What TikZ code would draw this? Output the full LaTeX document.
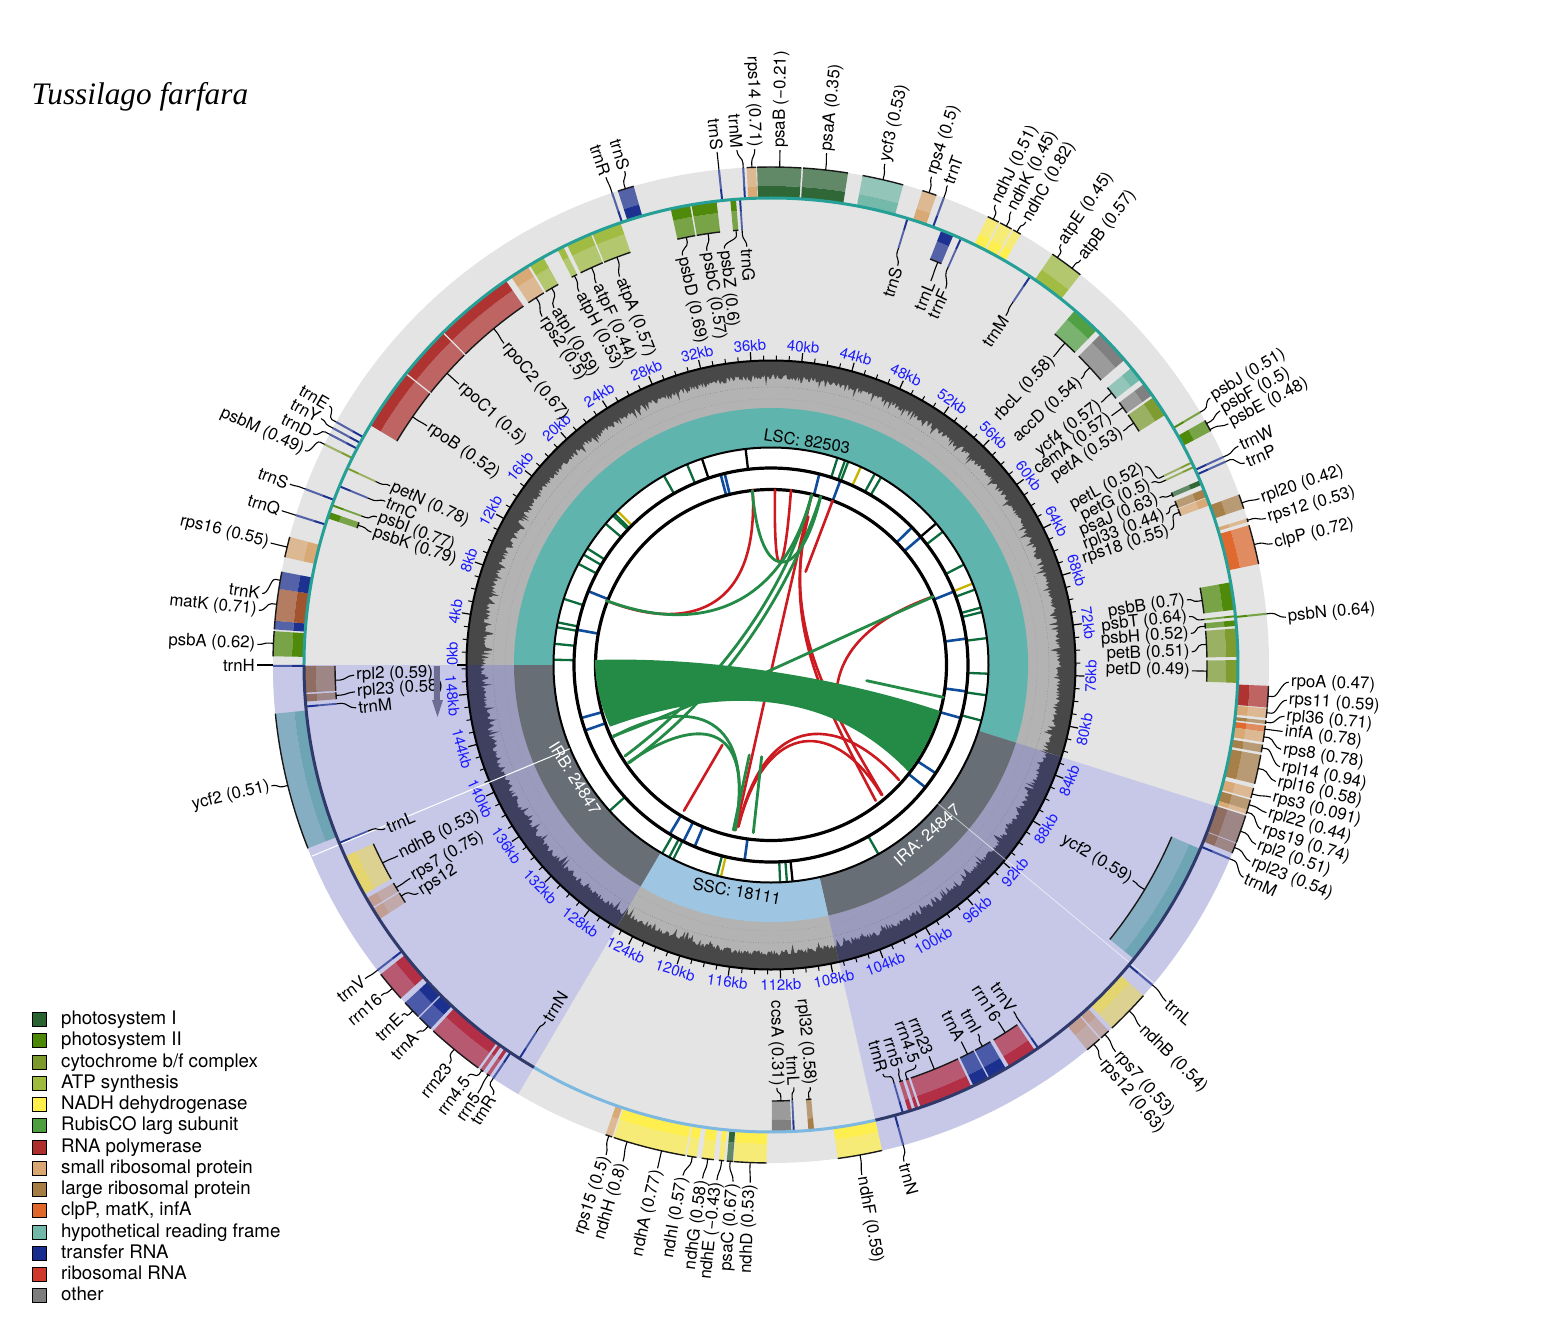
\documentclass[tikz,border=0pt]{standalone}
\usepackage{fontspec}
\setmainfont{TeX Gyre Heros}
\newfontfamily\titlefont{Liberation Serif}
\definecolor{gPSI}{HTML}{2A6332}
\definecolor{gPSII}{HTML}{4C8805}
\definecolor{gCYT}{HTML}{7C9A2C}
\definecolor{gATP}{HTML}{9FBB3D}
\definecolor{gNDH}{HTML}{FFEF4A}
\definecolor{gRUB}{HTML}{4D9E3F}
\definecolor{gPOL}{HTML}{AE2E2B}
\definecolor{gSSU}{HTML}{D9A872}
\definecolor{gLSU}{HTML}{A67C45}
\definecolor{gCLP}{HTML}{E0662A}
\definecolor{gHYP}{HTML}{71B8A8}
\definecolor{gTRN}{HTML}{172C8E}
\definecolor{gRRN}{HTML}{D1382C}
\definecolor{gRRI}{HTML}{B32B40}
\definecolor{gOTH}{HTML}{7D7D7D}
\definecolor{gYCI}{HTML}{6BA4B3}
\definecolor{gMAT}{HTML}{A0502A}
\definecolor{gRPI}{HTML}{8F6B5D}
\definecolor{gSSI}{HTML}{C19D8F}
\definecolor{gNDI}{HTML}{E5D66B}
\definecolor{bggray}{HTML}{E4E4E4}
\definecolor{lav}{HTML}{C7C8E8}
\definecolor{gcband}{HTML}{B3B3B3}
\definecolor{gcdark}{HTML}{484848}
\definecolor{gcbandIR}{HTML}{9B9BBE}
\definecolor{gcdarkIR}{HTML}{3F3F60}
\definecolor{lsc}{HTML}{60B4AE}
\definecolor{irr}{HTML}{676E75}
\definecolor{ssc}{HTML}{9EC6E2}
\definecolor{arcLSC}{HTML}{26A096}
\definecolor{arcSSC}{HTML}{7DB8E0}
\definecolor{arcIR}{HTML}{2F3A6B}
\definecolor{chG}{HTML}{238B46}
\definecolor{chR}{HTML}{CC1A20}
\definecolor{mkG}{HTML}{0B6B3A}
\definecolor{mkB}{HTML}{0F4C9C}
\definecolor{mkY}{HTML}{C8B400}
\definecolor{kbblue}{HTML}{1A1AFF}
\definecolor{arrowc}{HTML}{6D6D94}
\tikzset{
  lab/.style={inner sep=2pt,font=\fontsize{16.8}{19}\selectfont,text=black},
  leader/.style={draw=black,line width=1.1pt,line join=round},
  edgearc/.style={draw=black!90,line width=1.4pt},
  chordg/.style={draw=chG,line width=2.8pt,line cap=round},
  chordr/.style={draw=chR,line width=2.6pt,line cap=round},
  kblab/.style={inner sep=0pt,font=\fontsize{15}{16}\selectfont,text=kbblue},
  reglab/.style={inner sep=0pt,font=\fontsize{16.5}{18}\selectfont},
  legbox/.style={draw=black,line width=.5pt,minimum size=14pt,inner sep=0pt},
  legtxt/.style={inner sep=0pt,anchor=base west,font=\fontsize{18.7}{20}\selectfont},
}
\newcommand\sect[5]{\fill[#1] (#4:#2) arc[start angle=#4,end angle=#5,radius=#2] -- (#5:#3) arc[start angle=#5,end angle=#4,radius=#3] -- cycle;}
\newcommand\ogene[3]{\sect{#1,opacity=.97}{467}{479}{#2}{#3}\sect{#1,opacity=.7}{479}{498}{#2}{#3}\draw[edgearc] (#2:498) arc[start angle=#2,end angle=#3,radius=498];}
\newcommand\igene[3]{\sect{#1,opacity=.97}{467}{455}{#2}{#3}\sect{#1,opacity=.7}{455}{436}{#2}{#3}\draw[edgearc] (#2:436) arc[start angle=#2,end angle=#3,radius=436];}
\newcommand\othin[2]{\pgfmathsetmacro\tha{#2-.12}\pgfmathsetmacro\thb{#2+.12}\sect{#1,opacity=.97}{467}{479}{\tha}{\thb}\sect{#1,opacity=.7}{479}{498}{\tha}{\thb}}
\newcommand\ithin[2]{\pgfmathsetmacro\tha{#2-.12}\pgfmathsetmacro\thb{#2+.12}\sect{#1,opacity=.97}{467}{455}{\tha}{\thb}\sect{#1,opacity=.7}{455}{436}{\tha}{\thb}}
\newcounter{labn}
% gene angle, label angle, label radius, text
\newcommand\olab[4]{\stepcounter{labn}\pgfmathtruncatemacro\isr{abs(#2)<90?1:0}\pgfmathsetmacro\rp{#3-2}\pgfmathsetmacro\rc{#3-9}%
  \ifnum\isr=1 \pgfmathsetmacro\rt{#2}\def\anc{west}\else\pgfmathsetmacro\rt{#2-180}\def\anc{east}\fi
  \node[lab,anchor=\anc,rotate=\rt] (L\thelabn) at (#2:\rp) {#4};
  \draw[leader] (#1:498) -- (#1:503) .. controls (#1:508) and (#2:\rc) .. (L\thelabn.\anc);}
\newcommand\ilab[4]{\stepcounter{labn}\pgfmathtruncatemacro\isr{abs(#2)<90?1:0}\pgfmathsetmacro\rp{#3+2}\pgfmathsetmacro\rc{#3+9}%
  \ifnum\isr=1 \pgfmathsetmacro\rt{#2}\def\anc{east}\else\pgfmathsetmacro\rt{#2-180}\def\anc{west}\fi
  \node[lab,anchor=\anc,rotate=\rt] (L\thelabn) at (#2:\rp) {#4};
  \draw[leader] (#1:436) -- (#1:431) .. controls (#1:426) and (#2:\rc) .. (L\thelabn.\anc);}
\newcommand\gchist[5]{\pgfmathsetseed{#5}\fill[#1] (#2:304) \foreach \a [evaluate=\a as \rr using {304-(13+6*rnd+(rnd>0.9)*6)}] in {#2,#3,...,#4}{ -- (\a:\rr)} -- (#4:304) arc[start angle=#4,end angle=#2,radius=304] -- cycle;}
\begin{document}
\begin{tikzpicture}[x=1pt,y=1pt]
\useasboundingbox (-771,665) rectangle (773,-669);
\fill[white] (-771,665) rectangle (773,-669);
% outer background
\fill[bggray] (0,0) circle[radius=498];
\sect{lav}{304}{498}{-17.6}{-77.1}
\sect{lav}{304}{498}{-120.5}{-180}
% GC ring
\fill[gcband] (0,0) circle[radius=304];
\sect{gcbandIR}{257}{304}{-17.6}{-77.1}
\sect{gcbandIR}{257}{304}{-120.5}{-180}
\gchist{gcdark}{180}{179.75}{-17.6}{3}
\gchist{gcdarkIR}{-17.6}{-17.85}{-77.1}{5}
\gchist{gcdark}{-77.1}{-77.35}{-120.5}{8}
\gchist{gcdarkIR}{-120.5}{-120.75}{-180}{11}
\draw[black!55,line width=.5pt,dotted] (0,0) circle[radius=278];
\draw[black!45,line width=.4pt,dotted] (0,0) circle[radius=266];
\draw[black,line width=2pt] (0,0) circle[radius=304.5];
% ticks and kb labels
\foreach \k in {0,...,150}{
  \pgfmathsetmacro\ka{180-\k*2.3951}
  \pgfmathtruncatemacro\km{mod(\k,4)}
  \ifnum\km=0 \draw[black,line width=1.2pt] (\ka:305) -- (\ka:313.5);
  \else \draw[black,line width=1pt] (\ka:305) -- (\ka:309.5);\fi
}
\node[kblab,rotate=90] (kb0) at (178:319) {0kb};
\foreach \k in {4,8,...,148}{
  \pgfmathsetmacro\ka{180-\k*2.3951}
  \pgfmathtruncatemacro\up{\ka>0?1:0}
  \ifnum\up=1 \pgfmathsetmacro\kr{\ka-90}\else\pgfmathsetmacro\kr{\ka+90}\fi
  \node[kblab,rotate=\kr] (kb\k) at (\ka:320) {\k kb};
}
% region ring
\sect{lsc}{218}{257}{180}{-17.6}
\sect{irr}{218}{257}{-17.6}{-77.1}
\sect{ssc}{218}{257}{-77.1}{-120.5}
\sect{irr}{218}{257}{-120.5}{-180}
\node[reglab,rotate=-9] (rLSC) at (36,224) {LSC: 82503};
\node[reglab,rotate=-10] (rSSC) at (-34,-226) {SSC: 18111};
\node[reglab,rotate=42,text=white] (rIRA) at (156,-170) {IRA: 24847};
\node[reglab,rotate=-58,text=white] (rIRB) at (-196,-113) {IRB: 24847};
% inner rings
\fill[white] (0,0) circle[radius=217];
\foreach \a/\c in {96.7/black,108.5/black,112.7/mkG,119.5/mkG,134.9/mkY,136/mkG,136.6/mkG,139.5/mkG,147.6/mkG,149.5/mkG,152.3/mkG,162.3/mkG,168.7/mkG,170/mkG,174.4/mkG,178.6/mkG,72.2/mkG,70.1/mkG,69.2/mkG,65.6/mkY,61.5/mkG,59.6/mkG,40.6/black,37.8/mkG,27.5/mkG,22/mkY,20.3/mkG,15.3/mkG,14.1/mkG,7.1/mkG,-2.3/mkG,-8/mkG,-14.8/mkG,-60.4/mkG,-84.3/black,-85.8/mkG,-87.6/mkG,-103.3/mkY,-104.4/mkG,-116.7/mkG,-117.9/mkG,-120/mkG,-137.9/mkG}
  {\draw[\c,line width=2.3pt] (\a:197) -- (\a:217);}
\foreach \a in {104.8,103.6,75.8,69.4,44.3,40.5,21.9,7.7,-7.7,-15.6,-33.3,-38.4,-97.7,-112.8,-116.4,-120.9,-160.6,-164.4,169.7,158}
  {\draw[mkB,line width=2.6pt] (\a:175) -- (\a:198);}
\draw[black,line width=2pt] (0,0) circle[radius=217.5];
\draw[black,line width=3.2pt] (0,0) circle[radius=197];
\draw[black,line width=3.2pt] (0,0) circle[radius=175.5];
% chords, in a local frame
\begin{scope}[x=0.33333pt,y=-0.33333pt,shift={(-633,-675)}]
\draw[chordr] (140,482) .. controls (330,560) and (600,560) .. (578,150);
\draw[chordr] (645,150) .. controls (640,440) and (672,440) .. (693,150);
\draw[chordr] (818,182) -- (737,395);
\draw[chordr] (1118,470) .. controls (950,530) and (850,620) .. (832,735);
\draw[chordr] (755,165) .. controls (690,440) and (600,840) .. (527,1170);
\draw[chordr] (745,230) .. controls (660,560) and (800,800) .. (947,1082);
\draw[chordr] (735,270) .. controls (670,580) and (830,830) .. (967,1065);
\draw[chordr] (535,1160) .. controls (620,800) and (850,830) .. (1017,1020);
\draw[chordr] (535,1160) .. controls (620,830) and (830,840) .. (965,1065);
\draw[chordr] (487,915) -- (372,1112);
\draw[chordg] (577,152) .. controls (600,440) and (720,430) .. (782,170);
\draw[chordg] (140,482) .. controls (400,580) and (660,520) .. (755,165);
\draw[chordg] (755,165) .. controls (690,420) and (500,720) .. (195,948);
\draw[chordg] (782,170) .. controls (700,420) and (520,740) .. (208,968);
\draw[chordg] (1120,470) .. controls (800,610) and (500,760) .. (160,888);
\draw[chordg] (920,722) -- (1150,772);
\draw[chordg] (160,890) .. controls (400,760) and (590,830) .. (525,1170);
\draw[chordg] (205,968) .. controls (400,830) and (590,830) .. (525,1170);
\draw[chordg] (568,945) -- (520,1170);
\draw[chordg] (605,950) -- (580,1178);
\fill[chG] (105,660) .. controls (400,650) and (800,700) .. (1140,813)
  .. controls (1115,885) and (1085,945) .. (1045,995)
  .. controls (850,790) and (560,710) .. (150,860)
  .. controls (120,795) and (105,725) .. (105,660) -- cycle;
\end{scope}
% genes: outside the circle
\othin{gTRN}{180.1}
\ogene{gPSII}{176.1}{179}
\ogene{gTRN}{174.9}{175.9}
\ogene{gMAT}{171.2}{174.9}
\ogene{gTRN}{169.2}{171.2}
\ogene{gSSU}{165.1}{167.5}
\othin{gTRN}{162.5}
\othin{gTRN}{159.3}
\othin{gCYT}{153.7}
\othin{gTRN}{152.4}
\othin{gTRN}{151.6}
\othin{gTRN}{150.8}
\othin{gTRN}{108.6}
\ogene{gTRN}{106}{107.9}
\othin{gTRN}{96}
\othin{gTRN}{93.2}
\ogene{gSSU}{91.7}{92.8}
\ogene{gPSI}{86.5}{91.6}
\ogene{gPSI}{81.1}{86.3}
\ogene{gHYP}{74.6}{79.4}
\ogene{gSSU}{70.6}{72.3}
\othin{gTRN}{69.7}
\ogene{gNDH}{62.8}{64.2}
\ogene{gNDH}{61.1}{62.6}
\ogene{gNDH}{59.9}{60.9}
\ogene{gATP}{51.6}{55.6}
\othin{gPSII}{30.5}
\ogene{gPSII}{28}{29.4}
\othin{gTRN}{24.7}
\othin{gTRN}{24.1}
\ogene{gLSU}{18.3}{20}
\ogene{gSSU}{16.7}{17.1}
\ogene{gCLP}{11.7}{16.3}
\othin{gPSII}{5.9}
\ogene{gPOL}{-2.4}{-4.9}
\ogene{gSSU}{-5}{-6.1}
\ogene{gLSU}{-6.4}{-6.8}
\ogene{gCLP}{-7}{-7.7}
\ogene{gSSU}{-7.7}{-8.9}
\ogene{gLSU}{-9.2}{-10.1}
\ogene{gLSU}{-10.4}{-13.8}
\ogene{gSSU}{-14.3}{-15.5}
\ogene{gLSU}{-15.7}{-16.9}
\ogene{gSSU}{-16.9}{-17.4}
\ogene{gRPI}{-17.6}{-20.9}
\ogene{gRPI}{-21}{-22.2}
\othin{gTRN}{-22.9}
\othin{gTRN}{-40}
\ogene{gNDI}{-41.6}{-46.8}
\ogene{gSSI}{-47.3}{-48.5}
\ogene{gSSI}{-48.7}{-50.6}
\othin{gTRN}{-74.6}
\ogene{gNDH}{-77.1}{-82.3}
\ogene{gNDH}{-90.5}{-94.3}
\ogene{gPSI}{-94.4}{-95.1}
\ogene{gNDH}{-95.4}{-96}
\ogene{gNDH}{-96.6}{-98}
\ogene{gNDH}{-98.6}{-99.7}
\ogene{gNDH}{-99.9}{-108.4}
\ogene{gSSU}{-108.6}{-109.4}
\othin{gTRN}{-123.9}
\ogene{gRRI}{-124.4}{-124.8}
\ogene{gRRI}{-125.3}{-125.7}
\ogene{gRRI}{-126}{-132.7}
\ogene{gTRN}{-133.1}{-134.9}
\ogene{gTRN}{-135.1}{-137.3}
\ogene{gRRI}{-138}{-141.6}
\othin{gTRN}{-142.2}
\ogene{gYCI}{-158.4}{-174.4}
% genes: inside the circle
\ithin{gCYT}{155.1}
\ithin{gTRN}{157.5}
\ithin{gPSII}{160}
\igene{gPSII}{160.9}{161.7}
\igene{gPOL}{141.5}{149.1}
\igene{gPOL}{134.7}{141.3}
\igene{gPOL}{124.6}{134.5}
\igene{gSSU}{121.4}{123.8}
\igene{gATP}{119.2}{121.1}
\igene{gATP}{116.4}{117.2}
\igene{gATP}{112.7}{115.9}
\igene{gATP}{108.8}{112.5}
\igene{gPSII}{100}{102.4}
\igene{gPSII}{96.7}{99.8}
\igene{gPSII}{94.3}{95}
\ithin{gTRN}{93.8}
\ithin{gTRN}{73}
\igene{gTRN}{67}{68.6}
\ithin{gTRN}{66}
\ithin{gTRN}{56.3}
\igene{gRUB}{45.8}{49.4}
\igene{gOTH}{40.8}{45.1}
\igene{gHYP}{37.7}{39.5}
\igene{gOTH}{35.3}{37}
\igene{gCYT}{32.4}{35}
\ithin{gCYT}{25.7}
\ithin{gCYT}{25.1}
\igene{gPSI}{22.7}{23.3}
\igene{gLSU}{21.1}{22.1}
\igene{gSSU}{20}{21}
\igene{gPSII}{6.8}{10.2}
\ithin{gPSII}{6}
\igene{gPSII}{4.8}{5.5}
\igene{gCYT}{1}{4.5}
\igene{gCYT}{-2.2}{.6}
\igene{gYCI}{-23.2}{-39}
\ithin{gTRN}{-55.1}
\igene{gRRI}{-55.6}{-59.3}
\igene{gTRN}{-59.8}{-62.1}
\igene{gTRN}{-62.3}{-64.3}
\igene{gRRI}{-64.6}{-71.3}
\igene{gRRI}{-71.6}{-72}
\igene{gRRI}{-72.4}{-72.9}
\ithin{gTRN}{-73.6}
\igene{gLSU}{-84.7}{-85.4}
\ithin{gTRN}{-87.2}
\igene{gOTH}{-87.5}{-89.9}
\ithin{gTRN}{-122.6}
\igene{gSSI}{-147}{-148.5}
\igene{gSSI}{-148.7}{-150}
\igene{gNDI}{-150.6}{-155.8}
\ithin{gTRN}{-157.6}
\ithin{gTRN}{-174.9}
\igene{gRPI}{-175.5}{-176.4}
\igene{gRPI}{-176.6}{-179.9}
% white radial lines
\draw[white,line width=1pt] (-157.4:218) -- (-157.4:497);
\draw[white,opacity=.6,line width=.8pt] (-39.7:216) -- (-39.7:498);
% genome circle
\draw[arcLSC,line width=3pt] (180:467) arc[start angle=180,end angle=-17.6,radius=467];
\draw[arcIR,line width=3pt] (-17.6:467) arc[start angle=-17.6,end angle=-77.1,radius=467];
\draw[arcSSC,line width=3pt] (-77.1:467) arc[start angle=-77.1,end angle=-120.5,radius=467];
\draw[arcIR,line width=3pt] (-120.5:467) arc[start angle=-120.5,end angle=-180,radius=467];
% labels, outside
\olab{108.6}{108.7}{517}{trnR}
\olab{107}{106.5}{517}{trnS}
\olab{96}{96}{518}{trnS}
\olab{93.2}{93.8}{518}{trnM}
\olab{92.2}{91.8}{518}{rps14 (0.71)}
\olab{89}{89}{517}{psaB (−0.21)}
\olab{83.7}{83.8}{517}{psaA (0.35)}
\olab{77}{77.2}{516}{ycf3 (0.53)}
\olab{71.5}{71.8}{516}{rps4 (0.5)}
\olab{69.7}{69.8}{513}{trnT}
\olab{63.5}{64}{514}{ndhJ (0.51)}
\olab{61.8}{62.1}{515}{ndhK (0.45)}
\olab{60.4}{60.1}{513}{ndhC (0.82)}
\olab{54.9}{55.4}{513}{atpE (0.45)}
\olab{52.8}{52.6}{512}{atpB (0.57)}
\olab{30.5}{31.3}{516}{psbJ (0.51)}
\olab{29}{29.5}{518}{psbF (0.5)}
\olab{28.2}{27.8}{519}{psbE (0.48)}
\olab{24.7}{25.1}{518}{trnW}
\olab{24.1}{23.1}{517}{trnP}
\olab{19}{18.8}{518}{rpl20 (0.42)}
\olab{16.9}{16.5}{518}{rps12 (0.53)}
\olab{14}{13.6}{518}{clpP (0.72)}
\olab{5.9}{5.3}{519}{psbN (0.64)}
\olab{-3.6}{-1.9}{520}{rpoA (0.47)}
\olab{-5.5}{-3.9}{519}{rps11 (0.59)}
\olab{-6.6}{-5.7}{518}{rpl36 (0.71)}
\olab{-7.4}{-7.4}{518}{infA (0.78)}
\olab{-8.3}{-9.4}{519}{rps8 (0.78)}
\olab{-9.6}{-11.3}{521}{rpl14 (0.94)}
\olab{-12}{-13}{520}{rpl16 (0.58)}
\olab{-15}{-14.8}{519}{rps3 (0.091)}
\olab{-16.3}{-16.6}{519}{rpl22 (0.44)}
\olab{-17.2}{-18.5}{519}{rps19 (0.74)}
\olab{-19.5}{-20.3}{519}{rpl2 (0.51)}
\olab{-21.5}{-22.3}{520}{rpl23 (0.54)}
\olab{-22.9}{-24.2}{520}{trnM}
\olab{-40}{-40.4}{521}{trnL}
\olab{-44}{-44.4}{519}{ndhB (0.54)}
\olab{-47.9}{-48.3}{520}{rps7 (0.53)}
\olab{-49.6}{-50.1}{517}{rps12 (0.63)}
\olab{-74.6}{-75}{516}{trnN}
\olab{-79.7}{-79.9}{520}{ndhF (0.59)}
\olab{-92.4}{-92.3}{520}{ndhD (0.53)}
\olab{-94.7}{-94.2}{520}{psaC (0.67)}
\olab{-95.7}{-96}{520}{ndhE (−0.43)}
\olab{-97.3}{-97.6}{520}{ndhG (0.58)}
\olab{-99.1}{-99.8}{520}{ndhI (0.57)}
\olab{-102.7}{-102.7}{518}{ndhA (0.77)}
\olab{-106.8}{-106.6}{520}{ndhH (0.8)}
\olab{-109}{-108.6}{519}{rps15 (0.5)}
\olab{-123.9}{-122.9}{514}{trnR}
\olab{-124.6}{-124.4}{521}{rrn5}
\olab{-125.5}{-126.4}{513}{rrn4.5}
\olab{-129.5}{-128.9}{514}{rrn23}
\olab{-133.5}{-133.9}{513}{trnA}
\olab{-136}{-136.5}{511}{trnE}
\olab{-139.5}{-139.7}{513}{rrn16}
\olab{-142.2}{-142.3}{515}{trnV}
\olab{-166}{-166.4}{516}{ycf2 (0.51)}
\olab{180}{180}{516}{trnH}
\olab{177.5}{177.7}{516}{psbA (0.62)}
\olab{173}{173.9}{517}{matK (0.71)}
\olab{170.2}{172}{516}{trnK}
\olab{166.3}{166.3}{517}{rps16 (0.55)}
\olab{162.5}{162.5}{515}{trnQ}
\olab{159.3}{159.4}{516}{trnS}
\olab{153.7}{155.3}{515}{psbM (0.49)}
\olab{152.4}{153.2}{515}{trnD}
\olab{151.6}{151.3}{515}{trnY}
\olab{150.8}{149.6}{514}{trnE}
% labels, inside
\ilab{155.1}{154.8}{419}{petN (0.78)}
\ilab{157.5}{157}{417}{trnC}
\ilab{160}{159.4}{419}{psbI (0.77)}
\ilab{161.3}{161.6}{419}{psbK (0.79)}
\ilab{145.3}{145.2}{417}{rpoB (0.52)}
\ilab{138}{138}{418}{rpoC1 (0.5)}
\ilab{129.5}{129.7}{416}{rpoC2 (0.67)}
\ilab{122.6}{123.3}{415}{rps2 (0.5)}
\ilab{120.2}{121.3}{416}{atpI (0.59)}
\ilab{116.8}{117.2}{418}{atpH (0.53)}
\ilab{114.3}{114.6}{418}{atpF (0.44)}
\ilab{110.7}{111.3}{415}{atpA (0.57)}
\ilab{101.2}{102.2}{417}{psbD (0.69)}
\ilab{98.3}{98.8}{417}{psbC (0.57)}
\ilab{94.6}{96.4}{417}{psbZ (0.6)}
\ilab{93.8}{93.3}{417}{trnG}
\ilab{73}{72.4}{417}{trnS}
\ilab{67.5}{67.4}{414}{trnL}
\ilab{66}{65.1}{413}{trnF}
\ilab{56.3}{56.1}{419}{trnM}
\ilab{47.6}{47.5}{416}{rbcL (0.58)}
\ilab{43}{42.7}{420}{accD (0.54)}
\ilab{38.6}{38.5}{420}{ycf4 (0.57)}
\ilab{36.2}{36.2}{420}{cemA (0.57)}
\ilab{33.7}{33.6}{421}{petA (0.53)}
\ilab{25.7}{27.9}{421}{petL (0.52)}
\ilab{25.1}{25.6}{420}{petG (0.5)}
\ilab{23}{23.3}{421}{psaJ (0.63)}
\ilab{21.6}{20.9}{421}{rpl33 (0.44)}
\ilab{20.5}{18.7}{420}{rps18 (0.55)}
\ilab{8.5}{8.9}{419}{psbB (0.7)}
\ilab{6}{6.6}{419}{psbT (0.64)}
\ilab{5.1}{4.3}{419}{psbH (0.52)}
\ilab{2.7}{1.8}{419}{petB (0.51)}
\ilab{-0.8}{-0.8}{419}{petD (0.49)}
\ilab{-31}{-30.8}{419}{ycf2 (0.59)}
\ilab{-55.1}{-55}{421}{trnV}
\ilab{-57.5}{-57.5}{421}{rrn16}
\ilab{-61}{-60.7}{421}{trnI}
\ilab{-63.2}{-63.2}{420}{trnA}
\ilab{-68}{-68}{420}{rrn23}
\ilab{-71.8}{-70.1}{423}{rrn4.5}
\ilab{-72.7}{-72.5}{421}{rrn5}
\ilab{-73.6}{-74.7}{422}{trnR}
\ilab{-85}{-84.7}{422}{rpl32 (0.58)}
\ilab{-87.2}{-86.9}{421}{trnL}
\ilab{-88.7}{-89.2}{421}{ccsA (0.31)}
\ilab{-122.6}{-122.3}{420}{trnN}
\ilab{-148}{-147.1}{418}{rps12}
\ilab{-149.3}{-149.4}{417}{rps7 (0.75)}
\ilab{-153}{-152.9}{417}{ndhB (0.53)}
\ilab{-157.6}{-157}{417}{trnL}
\ilab{-174.9}{-174.1}{415}{trnM}
\ilab{-176}{-176.3}{415}{rpl23 (0.58)}
\ilab{-178}{-178.6}{415}{rpl2 (0.59)}
% strand arrow
\fill[arrowc] (-337,-1) -- (-331,-1) -- (-331,-35) -- (-328,-35) -- (-333.5,-52) -- (-339,-35) -- (-337,-35) -- cycle;
% title and legend
\node[anchor=west,inner sep=0pt,font=\titlefont\itshape\fontsize{31.3}{34}\selectfont] (title) at (-739.5,568) {Tussilago farfara};
\foreach \n/\c/\y/\t in {a/gPSI/1018/photosystem I,b/gPSII/1039/photosystem II,c/gCYT/1061/cytochrome b\slash f complex,d/gATP/1082/ATP synthesis,e/gNDH/1103/NADH dehydrogenase,f/gRUB/1124/RubisCO larg subunit,g/gPOL/1146/RNA polymerase,h/gSSU/1167/small ribosomal protein,i/gLSU/1188/large ribosomal protein,j/gCLP/1209/{clpP, matK, infA},k/gHYP/1231/hypothetical reading frame,l/gTRN/1252/transfer RNA,m/gRRN/1273/ribosomal RNA,o/gOTH/1294/other}{
  \node[legbox,fill=\c] (box\n) at (-732,664-\y) {};
  \node[legtxt] (txt\n) at (-710,659-\y) {\t};
}
\end{tikzpicture}
\end{document}
